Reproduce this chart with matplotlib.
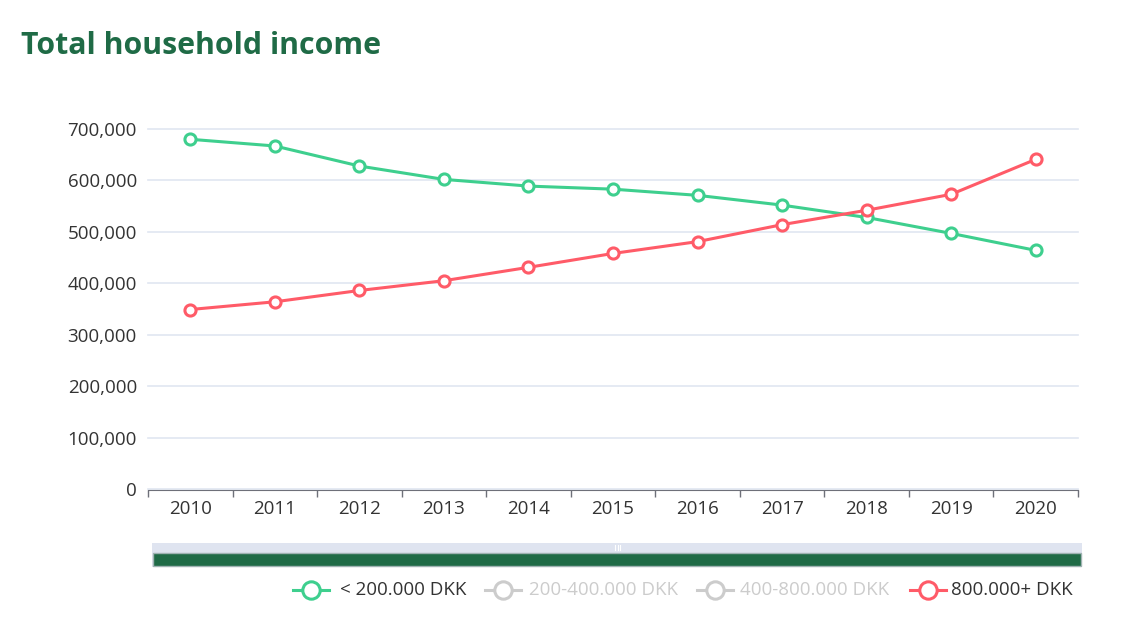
import matplotlib
matplotlib.use('Agg')

import matplotlib.pyplot as plt
from matplotlib.patches import Rectangle
from matplotlib.lines import Line2D
from matplotlib.ticker import FuncFormatter, MultipleLocator
import numpy as np

# --- Data ---
YEARS = ['2010', '2011', '2012', '2013', '2014', '2015',
         '2016', '2017', '2018', '2019', '2020']
UNDER_200K = [680000, 667000, 628000, 602000, 589000, 583000,
              571000, 552000, 528000, 497000, 464000]
OVER_800K = [349000, 364000, 386000, 405000, 431000, 458000,
             481000, 514000, 542000, 573000, 641000]
LEGEND_LABELS = ['< 200.000 DKK', '200-400.000 DKK', '400-800.000 DKK', '800.000+ DKK']

GREEN = '#3ecf8e'
RED = '#ff5b68'
GREY = '#cccccc'
DARK_GREEN = '#1f6b46'
FS = 13.5

plt.rcParams['font.family'] = ['Open Sans', 'DejaVu Sans']

W, H = 1129, 623
fig = plt.figure(figsize=(W / 100, H / 100), dpi=100)


def fx(px):
    return px / W


def fy(py):
    return 1 - py / H


# plot area: x 148..1078, y 0 -> 489, 700k -> 129
ax = fig.add_axes([fx(148), fy(489), fx(1078) - fx(148), fy(129) - fy(489)])
x = np.arange(len(YEARS))

for vals, col in [(UNDER_200K, GREEN), (OVER_800K, RED)]:
    ax.plot(x, vals, '-o', color=col, lw=2.2, markersize=8,
            markerfacecolor='white', markeredgecolor=col, markeredgewidth=2.2,
            zorder=3, clip_on=False)

ax.set_xlim(-0.5, len(YEARS) - 0.5)
ax.set_ylim(0, 700000)
ax.yaxis.set_major_locator(MultipleLocator(100000))
ax.yaxis.set_major_formatter(FuncFormatter(lambda v, p: f'{int(v):,}'))
ax.grid(True, axis='y', color='#e0e6f1', lw=1.2)
ax.set_axisbelow(True)
for gl in ax.get_ygridlines():
    gl.set_clip_on(False)

for s in ['top', 'right', 'left']:
    ax.spines[s].set_visible(False)
ax.spines['bottom'].set_color('#6e7079')
ax.spines['bottom'].set_position(('outward', 1))

# category labels at centres, ticks at band boundaries
ax.set_xticks(np.arange(-0.5, len(YEARS), 1.0))
ax.set_xticklabels([])
ax.set_xticks(x, minor=True)
ax.set_xticklabels(YEARS, minor=True)
ax.tick_params(axis='x', which='major', length=5, color='#6e7079', width=1)
ax.tick_params(axis='x', which='minor', length=0, pad=7, labelsize=FS, labelcolor='#333333')
ax.tick_params(axis='y', length=0, pad=8, labelsize=FS, labelcolor='#333333')

# title
fig.text(fx(21), fy(54), 'Total household income', fontsize=21.8, fontweight='bold',
         color=DARK_GREEN, va='baseline', ha='left')

# data zoom slider
fig.patches.append(Rectangle((fx(152), fy(567)), fx(1082) - fx(152), fy(543) - fy(567),
                             transform=fig.transFigure, facecolor='#dfe4f0',
                             edgecolor='none', zorder=1))
fig.patches.append(Rectangle((fx(153), fy(566)), fx(1081) - fx(153), fy(553) - fy(566),
                             transform=fig.transFigure, facecolor=DARK_GREEN,
                             edgecolor='#9fb2b2', lw=1, zorder=2))
for hx in (615, 617.5, 620):
    fig.add_artist(Line2D([fx(hx), fx(hx)], [fy(545), fy(550)],
                          transform=fig.transFigure, color='white', lw=0.8))

# legend
legend_items = [
    (311, 340, LEGEND_LABELS[0], GREEN, '#333333'),
    (503, 529, LEGEND_LABELS[1], GREY, GREY),
    (715, 740, LEGEND_LABELS[2], GREY, GREY),
    (928, 951, LEGEND_LABELS[3], RED, '#333333'),
]
for mx, tx, label, col, tcol in legend_items:
    fig.add_artist(Line2D([fx(mx - 18), fx(mx + 18)], [fy(590), fy(590)],
                          transform=fig.transFigure, color=col, lw=2.2))
    fig.add_artist(Line2D([fx(mx)], [fy(590)], transform=fig.transFigure, marker='o',
                          markersize=12.5, markerfacecolor='white', markeredgecolor=col,
                          markeredgewidth=2.2))
    fig.text(fx(tx), fy(590), label, fontsize=FS, color=tcol, ha='left', va='center')

fig.savefig('out.png', dpi=100)
